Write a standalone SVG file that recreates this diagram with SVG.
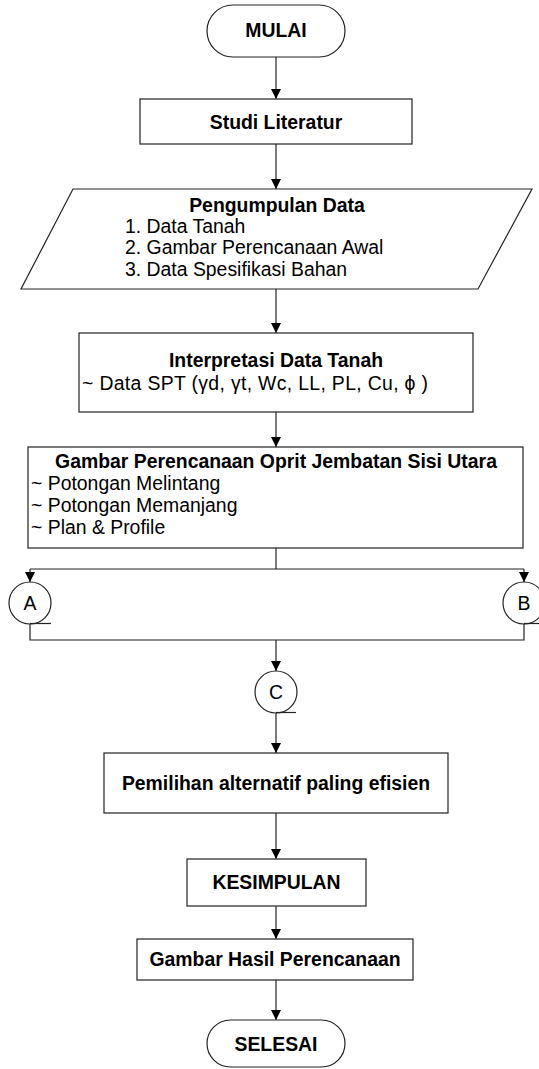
<svg xmlns="http://www.w3.org/2000/svg" width="539" height="1069" viewBox="0 0 539 1069">
<defs>
<marker id="arr" markerUnits="userSpaceOnUse" markerWidth="10" markerHeight="10" refX="10" refY="5" orient="auto">
<path d="M0,0 L10,5 L0,10 z" fill="#000"/>
</marker>
<style>
.s{fill:#fff;stroke:#222;stroke-width:1.2}
.c{fill:none;stroke:#222;stroke-width:1.2}
.a{fill:none;stroke:#222;stroke-width:1.2;marker-end:url(#arr)}
text{font-family:"Liberation Sans",Arial,sans-serif;font-size:19.4px;fill:#000}
.b{font-weight:bold}
.m{text-anchor:middle}
</style>
</defs>
<rect width="539" height="1069" fill="#fff"/>
<g id="connectors">
<line class="a" x1="276" y1="57" x2="276" y2="99"/>
<line class="a" x1="276" y1="144" x2="276" y2="189"/>
<line class="a" x1="276" y1="289" x2="276" y2="333"/>
<line class="a" x1="276" y1="412" x2="276" y2="447"/>
<polyline class="c" points="276,548 276,569"/>
<polyline class="c" points="30,569 524,569"/>
<line class="a" x1="30" y1="569" x2="30" y2="582"/>
<line class="a" x1="524" y1="569" x2="524" y2="582"/>
<polyline class="c" points="30,623 30,640 524,640 524,623"/>
<line class="a" x1="276" y1="640" x2="276" y2="671"/>
<line class="a" x1="276" y1="713" x2="276" y2="753"/>
<line class="a" x1="276" y1="813" x2="276" y2="859"/>
<line class="a" x1="276" y1="906" x2="276" y2="939"/>
<line class="a" x1="276" y1="980" x2="276" y2="1020"/>
</g>
<g id="mulai">
<rect class="s" x="207" y="5" width="138" height="52" rx="26" ry="26"/>
<text class="b m" x="276" y="37">MULAI</text>
</g>
<g id="studi">
<rect class="s" x="140" y="99" width="272" height="45"/>
<text class="b m" x="276" y="129">Studi Literatur</text>
</g>
<g id="pengumpulan">
<polygon class="s" points="73,189 532,189 478,289 21,289"/>
<text class="b m" x="277" y="212">Pengumpulan Data</text>
<text x="125" y="233">1. Data Tanah</text>
<text x="125" y="254">2. Gambar Perencanaan Awal</text>
<text x="125" y="276">3. Data Spesifikasi Bahan</text>
</g>
<g id="interpretasi">
<rect class="s" x="79" y="333" width="394" height="79"/>
<text class="b m" x="276" y="367">Interpretasi Data Tanah</text>
<text x="82" y="390" textLength="346" lengthAdjust="spacing">~ Data SPT (γd, γt, Wc, LL, PL, Cu, ϕ )</text>
</g>
<g id="gambar">
<rect class="s" x="28" y="447" width="495" height="101"/>
<text class="b m" x="276" y="468">Gambar Perencanaan Oprit Jembatan Sisi Utara</text>
<text x="31" y="490">~ Potongan Melintang</text>
<text x="31" y="512">~ Potongan Memanjang</text>
<text x="31" y="534">~ Plan &amp; Profile</text>
</g>
<g id="A">
<circle class="s" cx="30" cy="603" r="21"/>
<line class="c" x1="30" y1="623.5" x2="51" y2="623.5"/>
<text class="m" x="30" y="610">A</text>
</g>
<g id="B">
<circle class="s" cx="524" cy="603" r="21"/>
<line class="c" x1="524" y1="623.5" x2="545" y2="623.5"/>
<text class="m" x="524" y="610">B</text>
</g>
<g id="C">
<circle class="s" cx="276" cy="692" r="21"/>
<line class="c" x1="276" y1="712.5" x2="296" y2="712.5"/>
<text class="m" x="276" y="699">C</text>
</g>
<g id="pemilihan">
<rect class="s" x="104" y="753" width="344" height="60"/>
<text class="b m" x="276" y="790">Pemilihan alternatif paling efisien</text>
</g>
<g id="kesimpulan">
<rect class="s" x="187" y="859" width="179" height="47"/>
<text class="b m" x="276.5" y="889">KESIMPULAN</text>
</g>
<g id="hasil">
<rect class="s" x="137" y="939" width="276" height="41"/>
<text class="b m" x="275" y="966">Gambar Hasil Perencanaan</text>
</g>
<g id="selesai">
<rect class="s" x="207" y="1020" width="138" height="47" rx="23.5" ry="23.5"/>
<text class="b m" x="276" y="1051">SELESAI</text>
</g>
</svg>
